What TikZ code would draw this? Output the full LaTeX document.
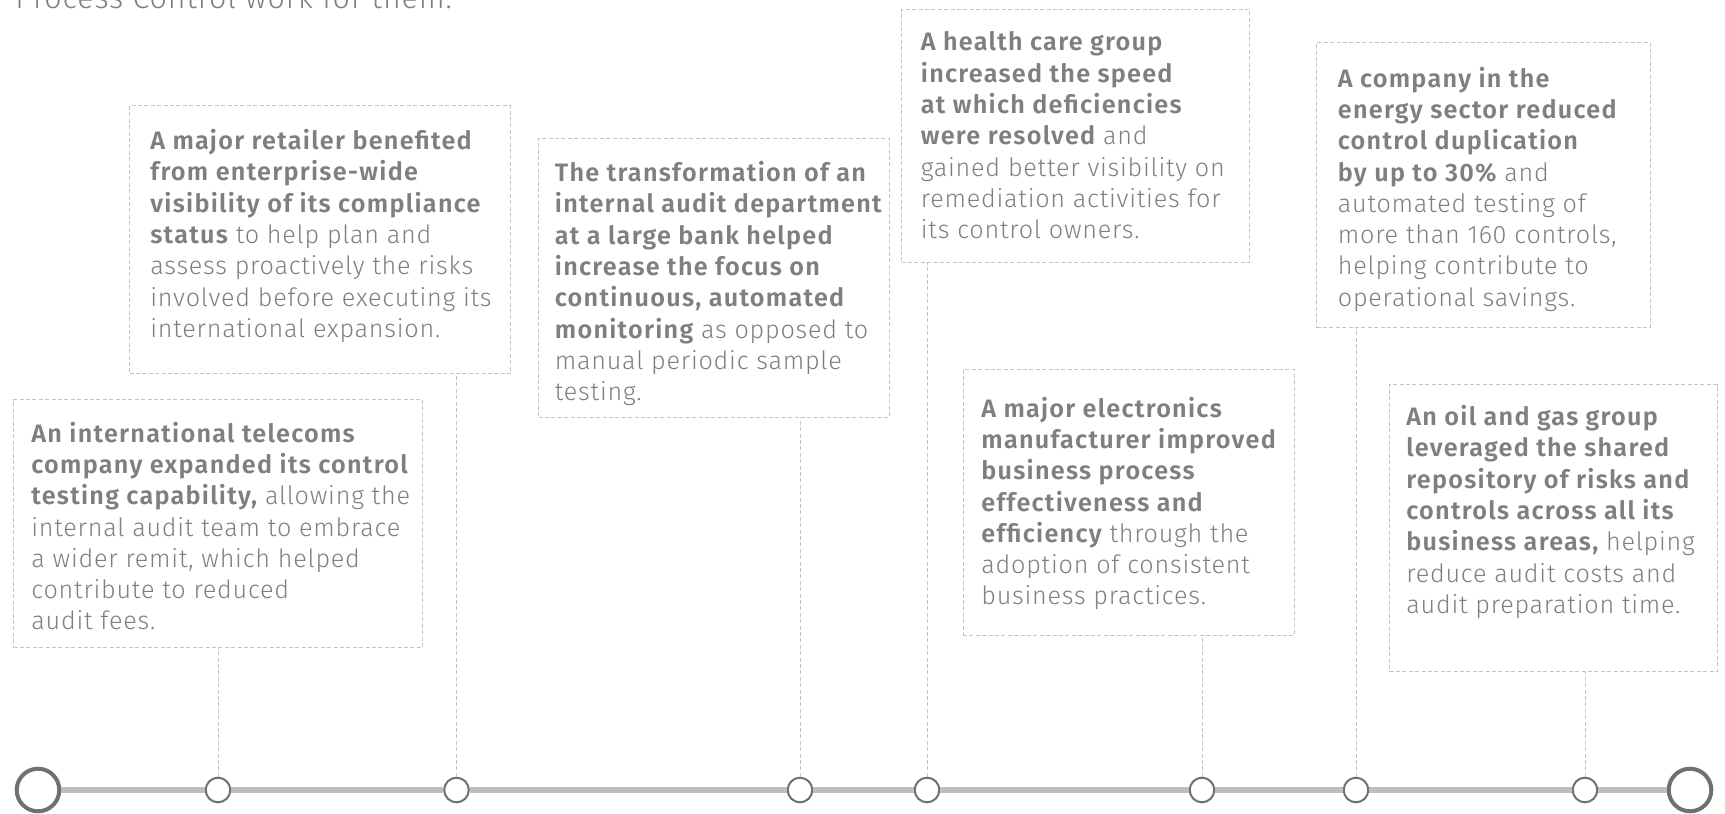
\documentclass[tikz,border=0pt]{standalone}
\usepackage{fontspec}
\setmainfont{Fira Sans}[UprightFont={* Light}, BoldFont={* SemiBold},
    UprightFeatures={LetterSpace=3}, BoldFeatures={LetterSpace=5}]
\usepackage{tikz}
\usetikzlibrary{positioning}

\definecolor{txtgray}{HTML}{7F7F7F}
\definecolor{dotgray}{HTML}{C4C4C4}
\definecolor{railgray}{HTML}{BEBEBE}
\definecolor{ringgray}{HTML}{707070}

\newcommand{\hilite}[1]{{\bfseries #1}}

\begin{document}
\begin{tikzpicture}[x=0.5pt, y=-0.5pt,
    box/.style={draw=dotgray, dash pattern=on 2pt off 1.2pt, line width=0.5pt,
        anchor=north west, inner sep=0pt},
    story/.style={anchor=north west, inner sep=0pt, align=left, text=txtgray,
        font=\fontsize{12.6}{15.65}\selectfont},
    dot/.style={circle, draw=ringgray, line width=1pt, fill=white,
        minimum size=12.3pt, inner sep=0pt},
    bigdot/.style={dot, line width=2pt, minimum size=21.3pt},
    link/.style={draw=dotgray, dash pattern=on 2pt off 1.2pt, line width=0.5pt},
    rail/.style={draw=railgray, line width=3pt}]

    \useasboundingbox (0,0) rectangle (1725,814);

    \node (head) [anchor=base west, inner sep=0pt, text=txtgray,
        font=\fontsize{15.2}{18}\selectfont] at (15,8.5) {Process Control work for them.};

    % timeline
    \node (start) [bigdot] at (38,790) {};
    \node (end)   [bigdot] at (1690,790) {};
    \foreach \x [count=\i] in {218,456.5,800,927,1202,1356,1585}
        \node (d\i) [dot] at (\x,790) {};
    \draw[rail] (start) -- (d1) -- (d2) -- (d3) -- (d4) -- (d5) -- (d6) -- (d7) -- (end);

    % the boxes
    \node (telecom) [box, minimum width=204.5pt, minimum height=124pt]   at (13,399)    {};
    \node (retail)  [box, minimum width=190.5pt, minimum height=134pt]   at (129,105)   {};
    \node (bank)    [box, minimum width=175.25pt, minimum height=139.75pt] at (538,137.5) {};
    \node (health)  [box, minimum width=174pt, minimum height=126.5pt]   at (901,9)     {};
    \node (electro) [box, minimum width=165.5pt, minimum height=133pt]   at (962.5,369) {};
    \node (energy)  [box, minimum width=166.75pt, minimum height=142.5pt] at (1316,42)   {};
    \node (oilgas)  [box, minimum width=163.75pt, minimum height=143.5pt] at (1389,384)  {};

    \node (telecom text) [story] at ([shift={(18,22.5)}]telecom.north west)
        {\hilite{An international telecoms}\\ \hilite{company expanded its control}\\
         \hilite{testing capability,} allowing the\\ internal audit team to embrace\\
         a wider remit, which helped\\ contribute to reduced\\ audit fees.};
    \node (retail text) [story] at ([shift={(21,24)}]retail.north west)
        {\hilite{A major retailer benefited}\\ \hilite{from enterprise-wide}\\
         \hilite{visibility of its compliance}\\ \hilite{status} to help plan and\\
         assess proactively the risks\\ involved before executing its\\
         international expansion.};
    \node (bank text) [story] at ([shift={(16.5,23.5)}]bank.north west)
        {\hilite{The transformation of an}\\ \hilite{internal audit department}\\
         \hilite{at a large bank helped}\\ \hilite{increase the focus on}\\
         \hilite{continuous, automated}\\ \hilite{monitoring} as opposed to\\
         manual periodic sample\\ testing.};
    \node (health text) [story] at ([shift={(19.5,22.5)}]health.north west)
        {\hilite{A health care group}\\ \hilite{increased the speed}\\
         \hilite{at which deficiencies}\\ \hilite{were resolved} and\\
         gained better visibility on\\ remediation activities for\\
         its control owners.};
    \node (electro text) [story] at ([shift={(18.5,27.5)}]electro.north west)
        {\hilite{A major electronics}\\ \hilite{manufacturer improved}\\
         \hilite{business process}\\ \hilite{effectiveness and}\\
         \hilite{efficiency} through the\\ adoption of consistent\\
         business practices.};
    \node (energy text) [story] at ([shift={(21.5,24.5)}]energy.north west)
        {\hilite{A company in the}\\ \hilite{energy sector reduced}\\
         \hilite{control duplication}\\ \hilite{by up to 30\%} and\\
         automated testing of\\ more than 160 controls,\\
         helping contribute to\\ operational savings.};
    \node (oilgas text) [story] at ([shift={(17,21)}]oilgas.north west)
        {\hilite{An oil and gas group}\\ \hilite{leveraged the shared}\\
         \hilite{repository of risks and}\\ \hilite{controls across all its}\\
         \hilite{business areas,} helping\\ reduce audit costs and\\
         audit preparation time.};

    % drop lines from the boxes to the timeline
    \draw[link] (d1) -- (d1 |- telecom.south);
    \draw[link] (d2) -- (d2 |- retail.south);
    \draw[link] (d3) -- (d3 |- bank.south);
    \draw[link] (d4) -- (d4 |- health.south);
    \draw[link] (d5) -- (d5 |- electro.south);
    \draw[link] (d6) -- (d6 |- energy.south);
    \draw[link] (d7) -- (d7 |- oilgas.south);
\end{tikzpicture}
\end{document}
